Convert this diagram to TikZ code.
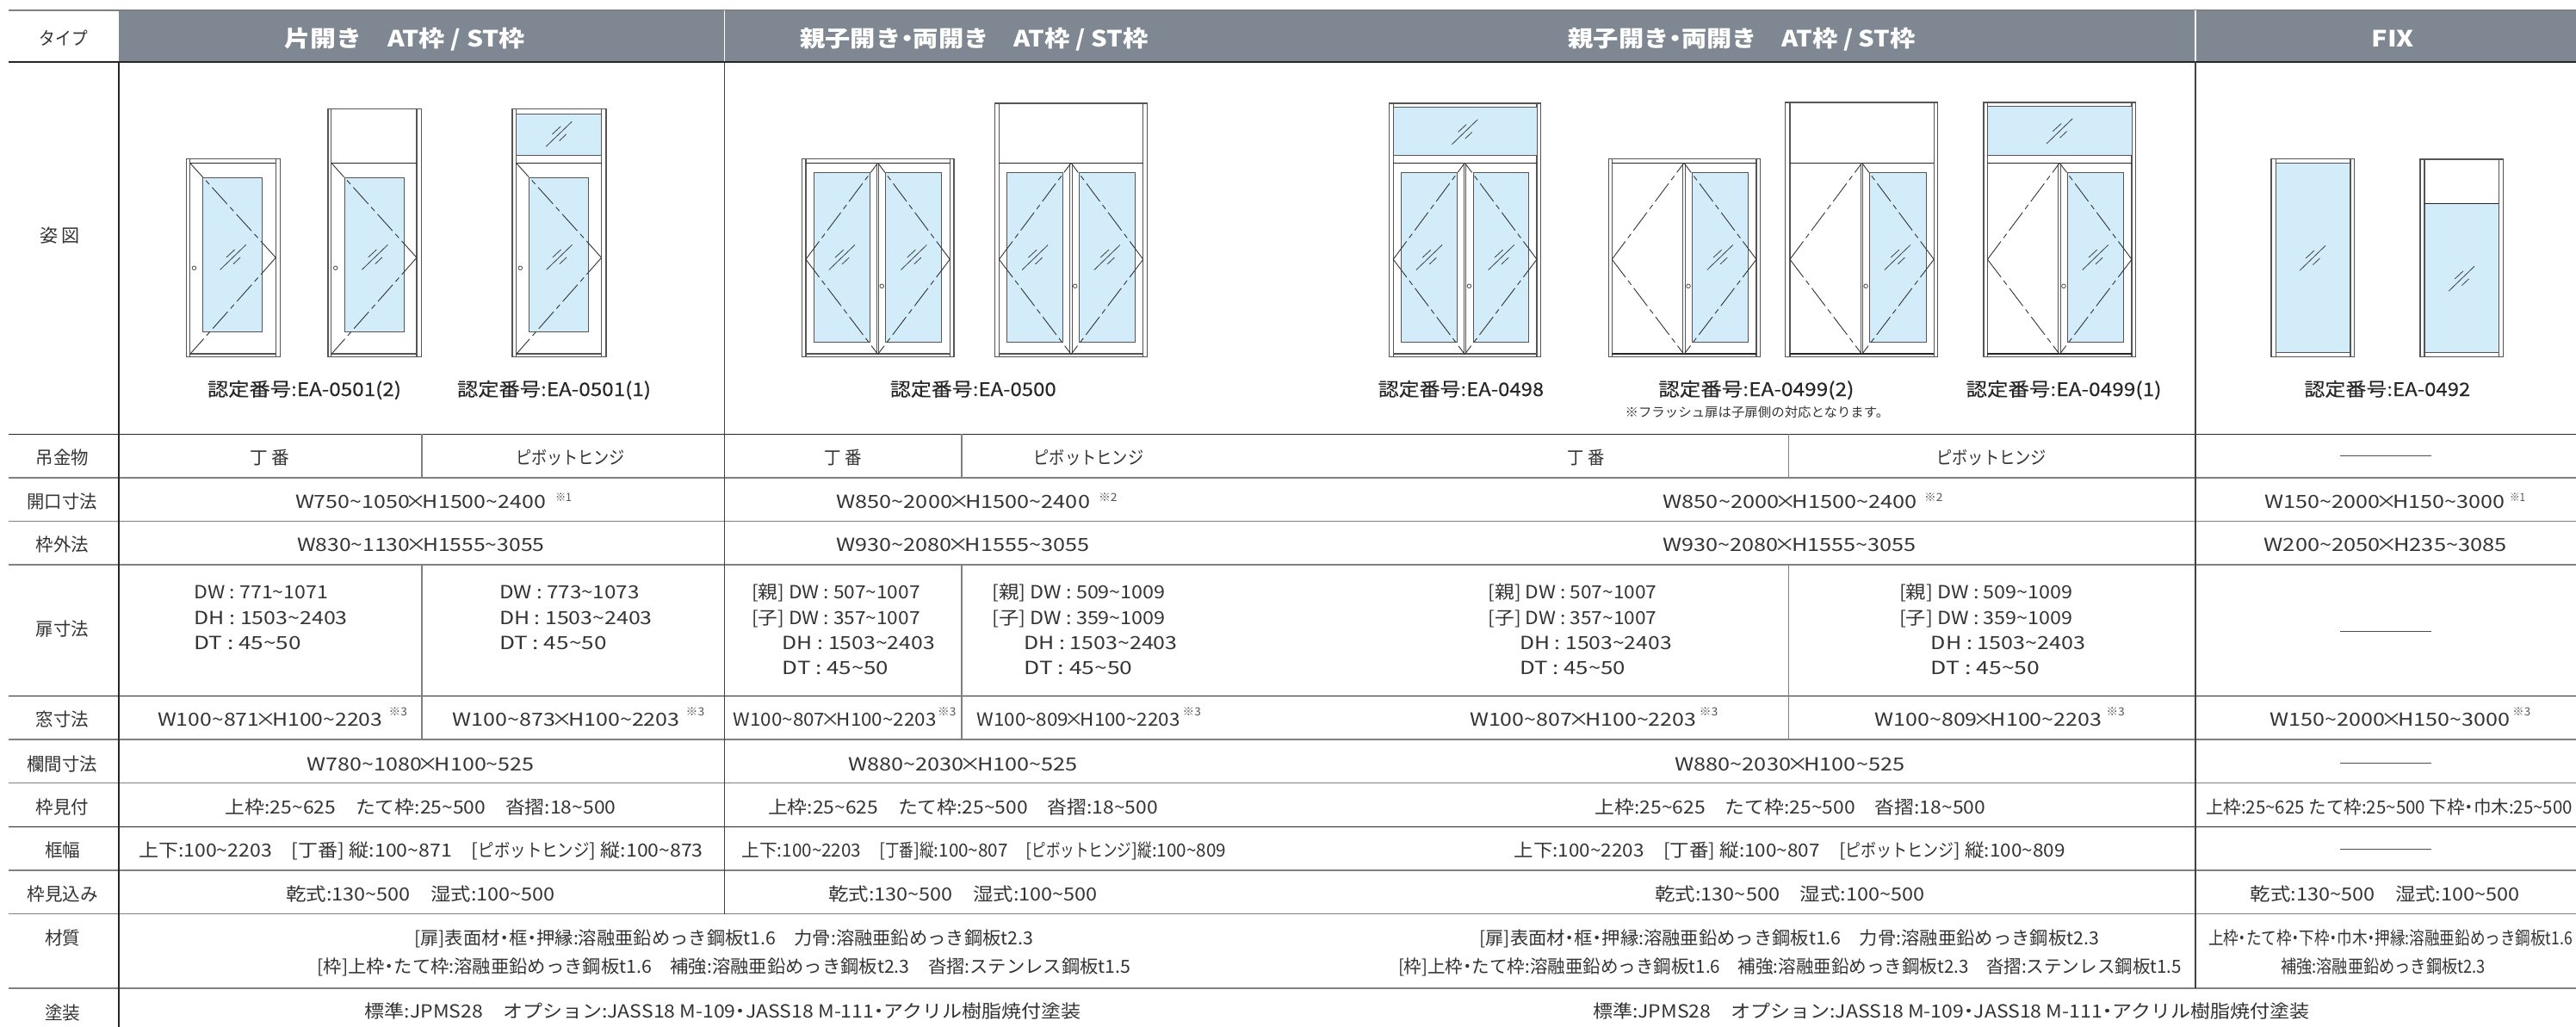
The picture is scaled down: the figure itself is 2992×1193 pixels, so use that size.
\documentclass[tikz,border=0pt]{standalone}
\usepackage{fontspec}
\usepackage{graphicx}
\setmainfont{Noto Sans CJK JP}
\newfontface\certfont{Noto Sans CJK JP}[FakeBold=0.15]
\definecolor{hdr}{HTML}{7F8892}
\definecolor{gl}{HTML}{D2EDF9}
\definecolor{ink}{HTML}{333333}
\definecolor{lg}{HTML}{808080}
\definecolor{fg}{HTML}{555555}
\newsavebox\tboxa
\newlength\tlena
\newcounter{tc}
\newcommand\fitx[2]{\sbox\tboxa{#2}\setlength\tlena{\wd\tboxa}\pgfmathsetmacro\fitr{#1/\tlena}\scalebox{\fitr}[1]{\usebox\tboxa}}
% \tx[style]{x left}{x right}{baseline}{text}
\newcommand\tx[5][val]{\stepcounter{tc}\pgfmathsetmacro\fitw{(#3-#2)*0.5}\node[#1] (t\arabic{tc}) at (#2,#4) {\fitx{\fitw}{#5}};}
\newcommand\nar[1]{\scalebox{.8}[1]{#1}}
\newcommand\dframe[5]{\draw[fr] (#1,#5) rectangle (#4,414.3);\draw[fr] (#2,#5)--(#2,414.3) (#3,#5)--(#3,414.3);\draw[dk] (#2,189.3)--(#3,189.3);\draw[fr] (#2,411)--(#3,411);}
\newcommand\glass[4]{\draw[glassbox] (#1,#3) rectangle (#2,#4);}
\newcommand\hatch[2]{\begin{scope}[shift={(#1,#2)}]\draw[ht] (-15,14.5)--(15,-14.5) (-7.8,.2)--(1.9,-8.8) (.3,7.9)--(8.4,.2);\end{scope}}
\newcommand\swing[3]{\draw[sw] (#2,#3)--(#1,189.3);\draw[sw] (#2,#3)--(#1,411.5);}
\newcommand\handle[2]{\draw[hd] (#1,#2) circle (2.3);}
\newcommand\stile[1]{\draw[fr,line width=.45pt] (#1-1.3,189.3)--(#1-1.3,411.5) (#1+1.3,189.3)--(#1+1.3,411.5);}
\tikzset{
 base node/.style={inner sep=0pt,outer sep=0pt,anchor=base west},
 val/.style={base node,text=ink,font=\fontsize{10.5}{12}\selectfont},
 sup/.style={base node,text=fg,font=\fontsize{6.5}{7}\selectfont},
 note/.style={base node,text=ink,font=\fontsize{7.5}{9}\selectfont},
 cert/.style={base node,text=black!85,font=\fontsize{10.8}{12}\certfont},
 head/.style={base node,text=white,font=\fontsize{13}{15}\bfseries\selectfont},
 fr/.style={draw=fg,line width=.6pt},
 dk/.style={draw=black!85,line width=.6pt},
 ht/.style={draw=black!75,line width=.4pt},
 hd/.style={draw=black!70,line width=.4pt},
 sw/.style={draw=black!80,line width=.45pt,dash pattern=on 13pt off 2.5pt on 3pt off 2.5pt},
 glassbox/.style={fill=gl,draw=fg,line width=.5pt},
 rowd/.style={draw=black!85,line width=.6pt},
 rowg/.style={draw=lg,line width=.6pt},
 dashr/.style={draw=black!70,line width=.5pt},
}
\catcode`\~=12
\catcode`×=\active
\protected\def×{\kern-.2em\char"D7\kern-.2em }
\catcode`・=\active
\protected\def・{\kern-.25em\char"30FB\kern-.25em }
\begin{document}
\begin{tikzpicture}[x=0.5pt,y=-0.5pt]
\useasboundingbox (0,0) rectangle (2992,1193);
\fill[white] (0,0) rectangle (2992,1193);
% header
\fill[hdr] (138,12) rectangle (2992,72);
\draw[draw=lg,line width=1pt] (10,12)--(2992,12);
\draw[white,line width=.8pt] (841.5,12)--(841.5,72) (2550,12)--(2550,72);
% rows
\foreach \y in {72,504.3,808.3,960.3} \draw[rowd] (10,\y)--(2992,\y);
\foreach \y in {555,605.7,655.9,859,909.7,1011,1061.7} \draw[rowg] (10,\y)--(2992,\y);
\draw[draw=lg,line width=.9pt] (10,1147.7)--(2992,1147.7);
% verticals
\draw[rowd] (138,72)--(138,1193);
\draw[draw=black!75,line width=.6pt] (841.5,72)--(841.5,1061.7) (2550,72)--(2550,1147.7);
\foreach \x in {490,1117,2077.6} \draw[rowg] (\x,504.3)--(\x,555) (\x,655.9)--(\x,859);
% --- doors ---
% A1
\dframe{216.3}{220.6}{320.3}{325.2}{184.3}
\glass{235.8}{304.6}{206.7}{385.7}\hatch{270.7}{298.8}
\swing{220.6}{320.3}{299.3}\handle{225.5}{311.3}
% A2
\dframe{381}{384.8}{484}{489.4}{126.7}
\glass{400.5}{469.4}{206.7}{385.7}\hatch{435.4}{298.8}
\swing{384.8}{484}{299.3}\handle{389.7}{311.3}
% A3
\dframe{595}{599.5}{698.6}{704}{126.7}
\draw[glassbox] (599.5,132.3) rectangle (698.6,180.3);\hatch{649.3}{155.7}
\glass{614.6}{683.5}{206.7}{385.7}\hatch{649.6}{298.8}
\swing{599.5}{698.6}{299.3}\handle{604.3}{311.3}
% B1
\dframe{931.8}{935.9}{1103.3}{1107.9}{184.3}
\glass{945.6}{1010.4}{200.3}{397.3}\glass{1028.3}{1093.6}{200.3}{397.3}
\stile{1019.6}
\hatch{977.8}{299}\hatch{1061.4}{299}
\swing{1019.6}{935.9}{301.3}\swing{1019.6}{1103.3}{301.3}\handle{1024.2}{332.3}
% B2
\dframe{1155.8}{1160.4}{1327.8}{1332.3}{120}
\glass{1169.6}{1234.4}{200.3}{397.3}\glass{1253.3}{1318.6}{200.3}{397.3}
\stile{1244.1}
\hatch{1202.2}{299}\hatch{1285.9}{299}
\swing{1244.1}{1160.4}{301.3}\swing{1244.1}{1327.8}{301.3}\handle{1248.7}{332.3}
% C1
\dframe{1613.6}{1618.2}{1785}{1789.6}{120}
\draw[glassbox] (1618.2,125) rectangle (1785,180.3);\hatch{1701.3}{153.3}
\glass{1627.3}{1692.1}{200.3}{397.3}\glass{1711}{1775.8}{200.3}{397.3}
\stile{1701.3}
\hatch{1660}{299}\hatch{1743.7}{299}
\swing{1701.3}{1618.2}{301.3}\swing{1701.3}{1785}{301.3}\handle{1706.4}{332.3}
% C2
\dframe{1868.2}{1872.2}{2040}{2044.7}{184.3}
\glass{1965.6}{2030.4}{200.3}{397.3}
\stile{1955.9}
\draw[dk] (1872.2,411)--(2040,411);
\hatch{1997.8}{299}
\swing{1955.9}{1872.2}{301.3}\swing{1955.9}{2040}{301.3}\handle{1961}{332.3}
% C3
\dframe{2073.8}{2078.9}{2246.2}{2250.3}{119}
\glass{2171.7}{2237}{200.3}{397.3}
\stile{2162.6}
\draw[dk] (2078.9,411)--(2246.2,411);
\hatch{2203.9}{299}
\swing{2162.6}{2078.9}{301.3}\swing{2162.6}{2246.2}{301.3}\handle{2167.1}{332.3}
% C4
\dframe{2304}{2308.4}{2476}{2480.5}{119}
\draw[glassbox] (2308.4,124) rectangle (2476,180.3);\hatch{2392.2}{152.3}
\glass{2401.5}{2466.4}{200.3}{397.3}
\stile{2392.2}
\draw[dk] (2308.4,411)--(2476,411);
\hatch{2433.7}{299}
\swing{2392.2}{2308.4}{301.3}\swing{2392.2}{2476}{301.3}\handle{2397}{332.3}
% FIX1
\draw[fr] (2638,184.3) rectangle (2734.7,414.3);
\draw[glassbox] (2643.3,189.3) rectangle (2730,409.3);
\draw[fr] (2643.3,184.3)--(2643.3,414.3) (2730,184.3)--(2730,414.3);
\hatch{2686.1}{299.7}
% FIX2
\draw[fr] (2811,185) rectangle (2907.7,414.3);
\draw[glassbox] (2815.9,236.3) rectangle (2902.3,409.3);
\draw[fr] (2815.9,185)--(2815.9,414.3) (2902.3,185)--(2902.3,414.3);
\draw[dk] (2815.9,236.3)--(2902.3,236.3);
\hatch{2859.1}{323.7}
% --- header text ---
\tx[head]{330.6}{609.8}{54.5}{片開き　AT枠 / ST枠}
\tx[head]{929.3}{1333.4}{54.5}{親子開き・両開き　AT枠 / ST枠}
\tx[head]{1821.7}{2224.8}{54.5}{親子開き・両開き　AT枠 / ST枠}
\tx[head]{2754.5}{2804}{54.5}{FIX}
% --- row labels ---
\tx{46}{102}{52.5}{タイプ}
\tx{46}{93}{281.5}{姿 図}
\tx{41.7}{103}{539}{吊金物}
\tx{31.4}{112.7}{590.5}{開口寸法}
\tx{41.7}{103}{640.6}{枠外法}
\tx{41.7}{103}{738.8}{扉寸法}
\tx{41.7}{103}{843.5}{窓寸法}
\tx{31.4}{112.7}{895}{欄間寸法}
\tx{41.7}{103}{945.8}{枠見付}
\tx{52}{93.2}{995.5}{框幅}
\tx{31.4}{113.8}{1046.5}{枠見込み}
\tx{52}{93.2}{1097}{材質}
\tx{52}{93.2}{1184}{塗装}
% --- certificates ---
\tx[cert]{241}{466}{460}{認定番号:EA-0501(2)}
\tx[cert]{531}{756}{460}{認定番号:EA-0501(1)}
\tx[cert]{1033.9}{1226.7}{460}{認定番号:EA-0500}
\tx[cert]{1600.8}{1793.2}{460}{認定番号:EA-0498}
\tx[cert]{1926.3}{2153.4}{460}{認定番号:EA-0499(2)}
\tx[note]{1887.6}{2194.2}{484}{※フラッシュ扉は子扉側の対応となります。}
\tx[cert]{2283.5}{2510.5}{460}{認定番号:EA-0499(1)}
\tx[cert]{2676.4}{2869.3}{460}{認定番号:EA-0492}
% --- column 1 ---
\tx{290}{336}{539}{丁 番}
\tx{599}{726}{539}{ピボットヒンジ}
\tx{343}{634}{590.5}{W750~1050×H1500~2400}
\tx[sup]{645}{664}{582.5}{※1}
\tx{345}{632.5}{640.6}{W830~1130×H1555~3055}
\tx{225.5}{381}{695.4}{DW : 771~1071}
\tx{225.5}{403.8}{725.3}{DH : 1503~2403}
\tx{225.5}{350}{754.5}{DT : 45~50}
\tx{580}{742.5}{695.4}{DW : 773~1073}
\tx{580}{757.7}{725.3}{DH : 1503~2403}
\tx{580}{704.6}{754.5}{DT : 45~50}
\tx{183.2}{444.4}{843.5}{W100~871×H100~2203}
\tx[sup]{451.5}{473}{831.5}{※3}
\tx{525.7}{789.7}{843.5}{W100~873×H100~2203}
\tx[sup]{796.7}{818.4}{831.5}{※3}
\tx{356.6}{620.6}{895}{W780~1080×H100~525}
\tx{261.8}{715.4}{945.8}{上枠:25~625　たて枠:25~500　沓摺:18~500}
\tx{161}{816.8}{995.5}{上下:100~2203　[丁番] 縦:100~871　[\nar{ピボットヒンジ}] 縦:100~873}
\tx{332.2}{645}{1046.5}{乾式:130~500　湿式:100~500}
\tx{481.3}{1200.2}{1097.5}{[扉]表面材・框・押縁:溶融亜鉛めっき鋼板t1.6　力骨:溶融亜鉛めっき鋼板t2.3}
\tx{368.6}{1313.5}{1130.5}{[枠]上枠・たて枠:溶融亜鉛めっき鋼板t1.6　補強:溶融亜鉛めっき鋼板t2.3　沓摺:ステンレス鋼板t1.5}
\tx{423.9}{1255.8}{1182}{標準:JPMS28　オプション:JASS18 M-109・JASS18 M-111・アクリル樹脂焼付塗装}
% --- column 2 ---
\tx{957.3}{1000.7}{539}{丁 番}
\tx{1200.7}{1328.3}{539}{ピボットヒンジ}
\tx{971.6}{1266}{590.5}{W850~2000×H1500~2400}
\tx[sup]{1276}{1297.7}{582.5}{※2}
\tx{971.6}{1265}{640.6}{W930~2080×H1555~3055}
\tx{873.2}{1068.6}{695.4}{[親] DW : 507~1007}
\tx{873.2}{1068.6}{725.3}{[子] DW : 357~1007}
\tx{908.9}{1085.9}{754.5}{DH : 1503~2403}
\tx{908.9}{1032.3}{783.6}{DT : 45~50}
\tx{1152.2}{1353.8}{695.4}{[親] DW : 509~1009}
\tx{1152.2}{1353.8}{725.3}{[子] DW : 359~1009}
\tx{1189.5}{1367.6}{754.5}{DH : 1503~2403}
\tx{1189.5}{1315.5}{783.6}{DT : 45~50}
\tx{851.7}{1087.4}{843.5}{W100~807×H100~2203}
\tx[sup]{1089}{1110.4}{831.5}{※3}
\tx{1134.4}{1370.6}{843.5}{W100~809×H100~2203}
\tx[sup]{1373.7}{1395}{831.5}{※3}
\tx{985.4}{1251.7}{895}{W880~2030×H100~525}
\tx{892}{1345}{945.8}{上枠:25~625　たて枠:25~500　沓摺:18~500}
\tx{861.4}{1424.2}{995.5}{上下:100~2203　[\nar{丁番}]\nar{縦}:100~807　[\nar{ピボットヒンジ}]\nar{縦}:100~809}
\tx{962.4}{1274.7}{1046.5}{乾式:130~500　湿式:100~500}
% --- column 3 ---
\tx{1820.9}{1863.8}{539}{丁 番}
\tx{2249.5}{2377}{539}{ピボットヒンジ}
\tx{1931.6}{2226.5}{590.5}{W850~2000×H1500~2400}
\tx[sup]{2235.2}{2256.6}{582.5}{※2}
\tx{1931.6}{2225.5}{640.6}{W930~2080×H1555~3055}
\tx{1728.6}{1924.5}{695.4}{[親] DW : 507~1007}
\tx{1728.6}{1924.5}{725.3}{[子] DW : 357~1007}
\tx{1765.3}{1941.8}{754.5}{DH : 1503~2403}
\tx{1765.3}{1888.3}{783.6}{DT : 45~50}
\tx{2206}{2407.5}{695.4}{[親] DW : 509~1009}
\tx{2206}{2407.5}{725.3}{[子] DW : 359~1009}
\tx{2242.9}{2422.5}{754.5}{DH : 1503~2403}
\tx{2242.9}{2369.4}{783.6}{DT : 45~50}
\tx{1707.1}{1970.4}{843.5}{W100~807×H100~2203}
\tx[sup]{1973.5}{1995.4}{831.5}{※3}
\tx{2177.6}{2441.3}{843.5}{W100~809×H100~2203}
\tx[sup]{2446.3}{2467.9}{831.5}{※3}
\tx{1945.4}{2212.2}{895}{W880~2030×H100~525}
\tx{1852.6}{2306.1}{945.8}{上枠:25~625　たて枠:25~500　沓摺:18~500}
\tx{1758.7}{2398.5}{995.5}{上下:100~2203　[丁番] 縦:100~807　[\nar{ピボットヒンジ}] 縦:100~809}
\tx{1922.4}{2235.2}{1046.5}{乾式:130~500　湿式:100~500}
\tx{1718.4}{2437.9}{1097.5}{[扉]表面材・框・押縁:溶融亜鉛めっき鋼板t1.6　力骨:溶融亜鉛めっき鋼板t2.3}
\tx{1624}{2533.8}{1130.5}{[枠]上枠・たて枠:溶融亜鉛めっき鋼板t1.6　補強:溶融亜鉛めっき鋼板t2.3　沓摺:ステンレス鋼板t1.5}
\tx{1850}{2682.5}{1182}{標準:JPMS28　オプション:JASS18 M-109・JASS18 M-111・アクリル樹脂焼付塗装}
% --- FIX column ---
\foreach \y in {529.5,733.5,886,986} \draw[dashr] (2718.3,\y)--(2823.8,\y);
\tx{2630.4}{2909.2}{590.5}{W150~2000×H150~3000}
\tx[sup]{2915}{2933}{582.5}{※1}
\tx{2629.6}{2911.7}{640.6}{W200~2050×H235~3085}
\tx{2636.3}{2915}{843.5}{W150~2000×H150~3000}
\tx[sup]{2918.3}{2939.2}{831.5}{※3}
\tx{2562}{2988}{945.8}{上枠:25~625 たて枠:25~500 下枠・巾木:25~500}
\tx{2613.8}{2926.7}{1046.5}{乾式:130~500　湿式:100~500}
\tx{2565}{2988}{1097.5}{上枠・たて枠・下枠・巾木・押縁:溶融亜鉛めっき鋼板t1.6}
\tx{2649.2}{2886.7}{1130.5}{補強:溶融亜鉛めっき鋼板t2.3}
\end{tikzpicture}
\end{document}
